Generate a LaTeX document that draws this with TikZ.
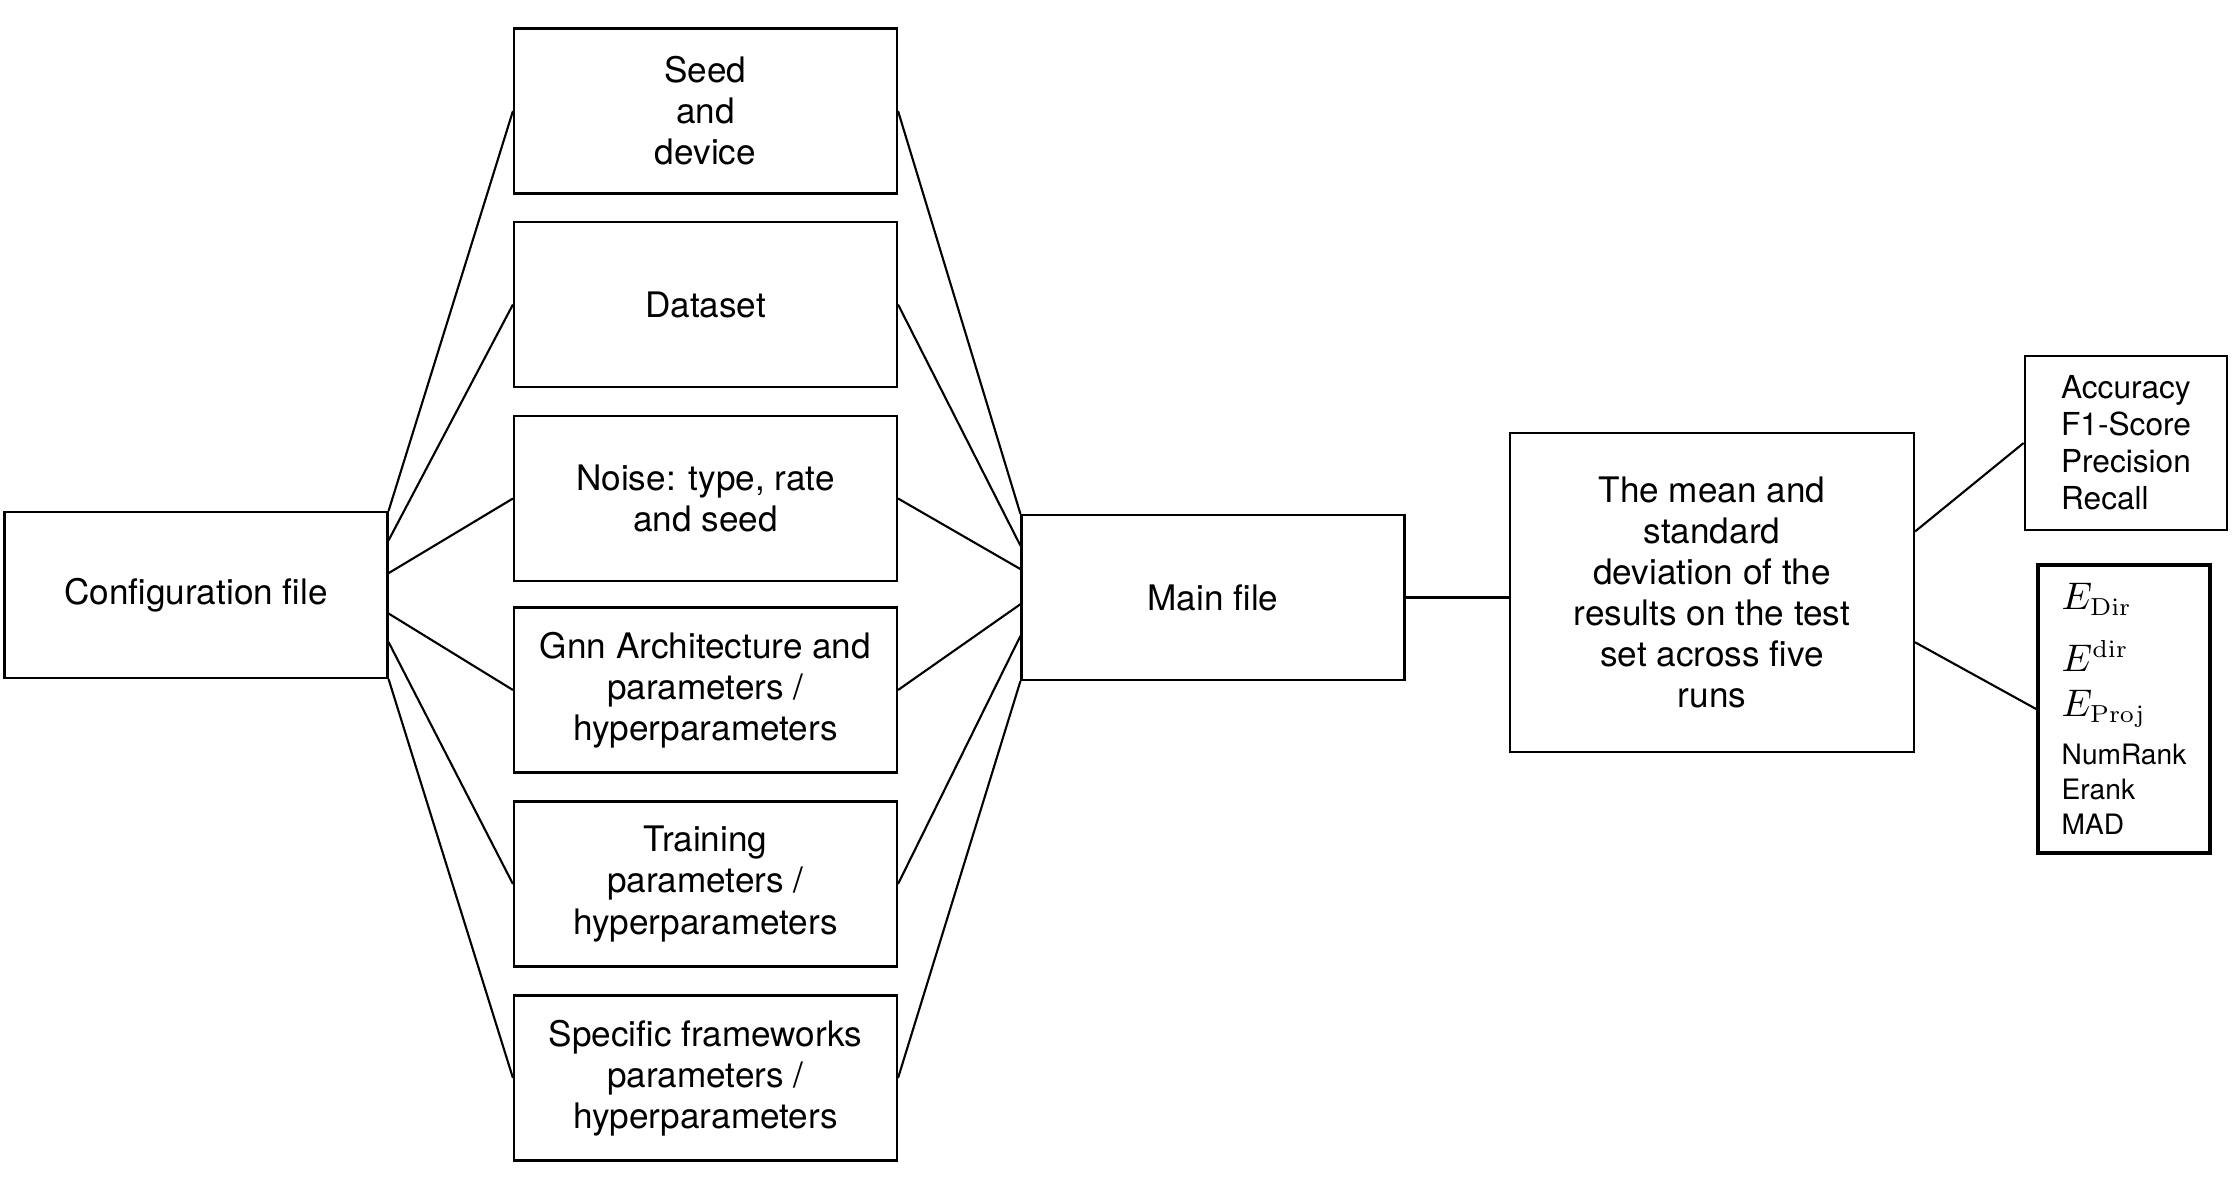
\documentclass[tikz,border=0pt]{standalone}
\usepackage[no-math]{fontspec}
\setmainfont{TeX Gyre Heros}
\usetikzlibrary{calc}
\begin{document}
\begin{tikzpicture}[line width=0.6pt,
  block/.style={draw, align=center, minimum width=3.83cm, minimum height=1.65cm, font=\fontsize{10}{11.7}\selectfont},
  metric/.style={draw, align=left, inner sep=2pt}]
\useasboundingbox (0,0) rectangle (22.36,-11.86);

\node[block, minimum height=1.66cm](cfg) at (1.96,-5.95){Configuration file};

\node[block](seed) at (7.055,-1.11){Seed\\and\\device};
\node[block](data) at (7.055,-3.045){Dataset};
\node[block](noise) at (7.055,-4.985){Noise: type, rate\\and seed};
\node[block](gnn) at (7.055,-6.90){Gnn Architecture and\\parameters /\\hyperparameters};
\node[block](train) at (7.055,-8.84){Training\\parameters /\\hyperparameters};
\node[block](spec) at (7.055,-10.78){Specific frameworks\\parameters /\\hyperparameters};

\node[block](main) at (12.13,-5.975){Main file};

\draw(cfg.north east)--(seed.west);
\draw($(cfg.north east)!0.175!(cfg.south east)$)--(data.west);
\draw($(cfg.north east)!0.37!(cfg.south east)$)--(noise.west);
\draw($(cfg.north east)!0.61!(cfg.south east)$)--(gnn.west);
\draw($(cfg.north east)!0.78!(cfg.south east)$)--(train.west);
\draw(cfg.south east)--(spec.west);

\draw(seed.east)--(main.north west);
\draw(data.east)--($(main.north west)!0.19!(main.south west)$);
\draw(noise.east)--($(main.north west)!0.33!(main.south west)$);
\draw(gnn.east)--($(main.north west)!0.54!(main.south west)$);
\draw(train.east)--($(main.north west)!0.73!(main.south west)$);
\draw(spec.east)--(main.south west);

\node[block, minimum width=4.04cm, minimum height=3.19cm](mean) at (17.12,-5.925){The mean and\\standard\\deviation of the\\results on the test\\set across five\\runs};
\draw(main.east)--(main.east -| mean.west);

\node[metric, line width=0.8pt, minimum width=2.02cm, minimum height=1.74cm, font=\fontsize{9}{10.5}\selectfont](acc) at (21.26,-4.43){Accuracy\\F1-Score\\Precision\\Recall};
\node[metric, line width=1.1pt, minimum width=1.72cm, minimum height=2.88cm, font=\fontsize{8}{10}\selectfont](rank) at (21.24,-7.09){{\fontsize{10.5}{12}\selectfont$E_{\mathrm{Dir}}$}\\[6pt]{\fontsize{10.5}{12}\selectfont$E^{\mathrm{dir}}$}\\[3pt]{\fontsize{10.5}{12}\selectfont$E_{\mathrm{Proj}}$}\\[3.5pt]NumRank\\Erank\\MAD};

\draw($(mean.north east)!0.31!(mean.south east)$)--(acc.west);
\draw($(mean.north east)!0.655!(mean.south east)$)--(rank.west);

\end{tikzpicture}
\end{document}
